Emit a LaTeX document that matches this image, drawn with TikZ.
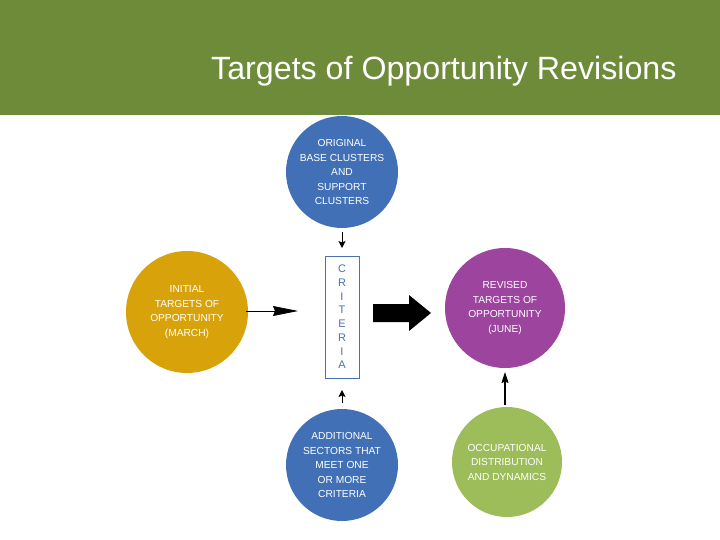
\documentclass[tikz,border=0pt]{standalone}
\usepackage{fontspec}
\setmainfont{Liberation Sans}
\usetikzlibrary{arrows.meta}
\definecolor{hdr}{HTML}{6E8B3A}
\definecolor{cblue}{HTML}{4170B6}
\definecolor{corange}{HTML}{D8A30A}
\definecolor{cpurple}{HTML}{9C449E}
\definecolor{cgreen}{HTML}{9DBD5A}
\definecolor{crit}{HTML}{4A72B0}
\begin{document}
\begin{tikzpicture}[x=1pt,y=-1pt,
  disc/.style={circle,inner sep=0pt,text=white,align=center,
    font=\fontsize{10.2}{14.5}\selectfont},
  thinarrow/.style={-{Stealth[length=7pt,width=7pt,inset=1.5pt]},line width=1pt},
]
\useasboundingbox (0,0) rectangle (720,540);
\fill[white] (0,0) rectangle (720,540);
\fill[hdr] (0,0) rectangle (720,115);
\node[anchor=base west,text=white,inner sep=0pt,font=\fontsize{32.2}{36}\selectfont] (title) at (211,80) {Targets of Opportunity Revisions};

\node[disc,fill=cblue,minimum size=112pt] (orig) at (342,172) {ORIGINAL\\BASE CLUSTERS\\AND\\SUPPORT\\CLUSTERS};
\node[disc,fill=corange,minimum size=122pt] (init) at (187,312) {INITIAL\\TARGETS OF\\OPPORTUNITY\\(MARCH)};
\node[disc,fill=cpurple,minimum size=120pt] (rev) at (505,308) {REVISED\\TARGETS OF\\OPPORTUNITY\\(JUNE)};
\node[disc,fill=cblue,minimum size=112pt] (add) at (342,465) {ADDITIONAL\\SECTORS THAT\\MEET ONE\\OR MORE\\CRITERIA};
\node[disc,fill=cgreen,minimum size=110pt] (occ) at (507,462) {OCCUPATIONAL\\DISTRIBUTION\\AND DYNAMICS};

\node[draw=crit,line width=1pt,minimum width=34pt,minimum height=122pt,inner sep=0pt,text=crit,align=center,
  font=\fontsize{11}{13.7}\selectfont] (crit) at (342,317) {C\\R\\I\\T\\E\\R\\I\\A};

\coordinate (t1) at (342,232); \coordinate (t2) at (342,248);
\draw[thinarrow] (t1) -- (t2);
\coordinate (b1) at (342,403); \coordinate (b2) at (342,390);
\draw[thinarrow] (b1) -- (b2);
\coordinate (l1) at (246,311); \coordinate (l2) at (298,311);
\draw[-{Stealth[length=25pt,width=10pt,inset=2pt]},line width=0.8pt] (l1) -- (l2);
\coordinate (r1) at (505,405); \coordinate (r2) at (505,372);
\draw[-{Stealth[length=11pt,width=7pt,inset=1.5pt]},line width=1.2pt] (r1) -- (r2);

\fill[black] (373,304) -- (409,304) -- (409,295) -- (431,313) -- (409,331) -- (409,322) -- (373,322) -- cycle;
\end{tikzpicture}
\end{document}
